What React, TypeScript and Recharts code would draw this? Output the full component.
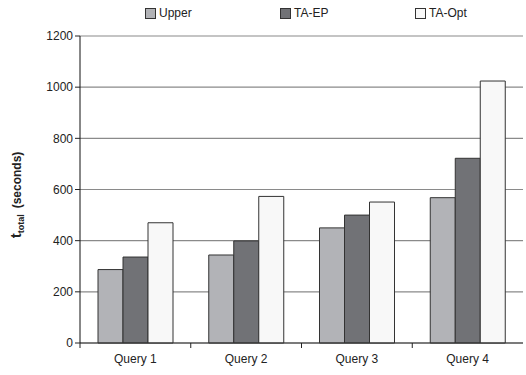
import React from "react";
import {
  BarChart,
  Bar,
  XAxis,
  YAxis,
  CartesianGrid,
} from "recharts";

const queries = ["Query 1", "Query 2", "Query 3", "Query 4"];
const upper = [287, 344, 450, 568];
const taEp = [336, 399, 500, 722];
const taOpt = [470, 573, 551, 1024];
const yTicks = [0, 200, 400, 600, 800, 1000, 1200];

const seriesInfo = [
  { key: "upper", name: "Upper", color: "#b2b3b7" },
  { key: "taEp", name: "TA-EP", color: "#717276" },
  { key: "taOpt", name: "TA-Opt", color: "#f8f8f8" },
];

const data = queries.map((q, i) => ({
  query: q,
  upper: upper[i],
  taEp: taEp[i],
  taOpt: taOpt[i],
}));

const FONT = "'Liberation Sans', Arial, sans-serif";

// category ticks sit between groups, so the mark is shifted half a band left
const XTick = (props: any) => {
  const { x, y, payload } = props;
  const half = 443 / queries.length / 2;
  return (
    <g>
      <line x1={x - half} y1={y - 8} x2={x - half} y2={y - 3} stroke="#222" />
      <text x={x} y={y + 12} textAnchor="middle" fontSize={12} fill="#222" fontFamily={FONT}>
        {payload.value}
      </text>
    </g>
  );
};

const YLabel = () => (
  <text
    transform="translate(21,195) rotate(-90)"
    textAnchor="middle"
    fontFamily={FONT}
    fontWeight="bold"
    fill="#222"
  >
    <tspan fontSize={15}>t</tspan>
    <tspan fontSize={9} dy={3}>total</tspan>
    <tspan fontSize={12} dy={-3} dx={6}>(seconds)</tspan>
  </text>
);

// legend drawn as an overlay so it doesn't push the plot area down
const TopLegend = () => (
  <div
    style={{
      position: "absolute",
      left: 0,
      top: 6,
      width: 526,
      height: 16,
      fontFamily: FONT,
      fontSize: 12,
      color: "#222",
    }}
  >
    {seriesInfo.map((s, i) => (
      <div
        key={s.key}
        style={{ position: "absolute", left: 145 + i * 135, top: 0, display: "flex", alignItems: "center" }}
      >
        <span
          style={{
            display: "inline-block",
            width: 9,
            height: 9,
            background: s.color,
            border: "1px solid #333",
            marginRight: 3,
          }}
        />
        <span>{s.name}</span>
      </div>
    ))}
  </div>
);

export default function App() {
  return (
    <div style={{ position: "absolute", left: 0, top: 0, width: 526, height: 375, background: "#fff" }}>
      <BarChart
        width={526}
        height={375}
        data={data}
        margin={{ top: 36, right: 3, bottom: 2, left: 0 }}
        barCategoryGap={18}
        barGap={0}
      >
        <CartesianGrid vertical={false} stroke="#8a8a8a" strokeWidth={1.2} />
        <XAxis
          dataKey="query"
          height={30}
          tick={<XTick />}
          tickLine={false}
          axisLine={{ stroke: "#333", strokeWidth: 1.2 }}
          interval={0}
        />
        <YAxis
          width={80}
          domain={[0, 1200]}
          ticks={yTicks}
          tick={{ fontSize: 12, fill: "#222", fontFamily: FONT }}
          tickLine={{ stroke: "#222" }}
          tickSize={5}
          axisLine={{ stroke: "#111" }}
          label={<YLabel />}
        />
        {seriesInfo.map((s) => (
          <Bar
            key={s.key}
            dataKey={s.key}
            name={s.name}
            fill={s.color}
            stroke="#333"
            strokeWidth={1}
            isAnimationActive={false}
          />
        ))}
      </BarChart>
      <TopLegend />
    </div>
  );
}
